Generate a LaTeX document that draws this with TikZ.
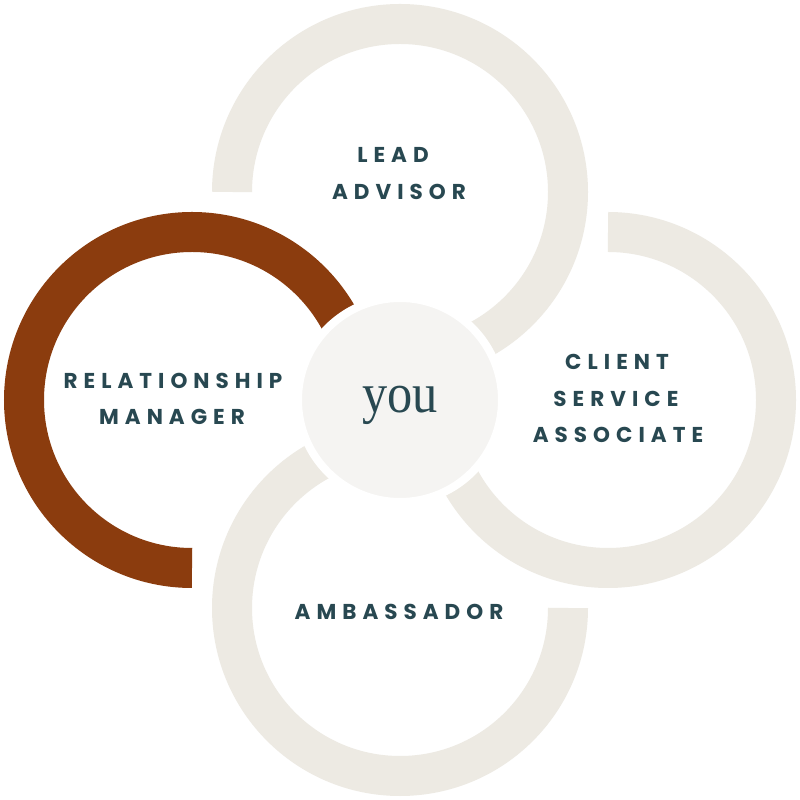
\documentclass[tikz,border=0pt]{standalone}
\usepackage{fontspec}
\newfontfamily\labfont{Poppins}[LetterSpace=28]
\newfontfamily\youfont{Liberation Serif}
\definecolor{ringbeige}{RGB}{237,234,227}
\definecolor{ringbrown}{RGB}{139,60,14}
\definecolor{hubfill}{RGB}{245,244,242}
\definecolor{inkteal}{RGB}{40,72,81}
\begin{document}
\begin{tikzpicture}[x=1pt,y=1pt,
  ring/.style={line width=40pt, line cap=butt, draw=ringbeige},
  hub/.style={circle, fill=hubfill, draw=white, line width=8pt, minimum size=204pt, inner sep=0pt},
  lab/.style={anchor=base, text=inkteal, inner sep=0pt, font=\labfont\bfseries\fontsize{21.5}{25}\selectfont},
  youtxt/.style={anchor=base, text=inkteal, inner sep=0pt, font=\youfont\fontsize{56}{60}\selectfont}]
\useasboundingbox (0,0) rectangle (800,800);
\fill[white] (0,0) rectangle (800,800);
\coordinate (ctop) at (400,608);
\coordinate (cleft) at (192,400);
\coordinate (cright) at (608,400);
\coordinate (cbottom) at (400,192);
\draw[ring] (ctop) ++(180:168pt) arc[start angle=180, end angle=-90, radius=168pt];
\draw[ring] (cright) ++(90:168pt) arc[start angle=90, end angle=-180, radius=168pt];
\draw[ring] (cbottom) ++(0:168pt) arc[start angle=0, end angle=-270, radius=168pt];
\draw[ring, draw=ringbrown] (cleft) ++(270:168pt) arc[start angle=270, end angle=0, radius=168pt];
\node[hub] (hub) at (400,400) {};
\node[youtxt] (you) at (400,387) {\scalebox{0.9}[1]{you}};
\node[lab] (lead) at (393,637) {LEAD};
\node[lab] (advisor) at (399,600) {ADVISOR};
\node[lab] (relationship) at (173,411) {RELATIONSHIP};
\node[lab] (manager) at (172,375) {MANAGER};
\node[lab] (client) at (617,430) {CLIENT};
\node[lab] (service) at (616,393) {SERVICE};
\node[lab] (associate) at (618,357) {ASSOCIATE};
\node[lab] (ambassador) at (399,180) {AMBASSADOR};
\end{tikzpicture}
\end{document}
